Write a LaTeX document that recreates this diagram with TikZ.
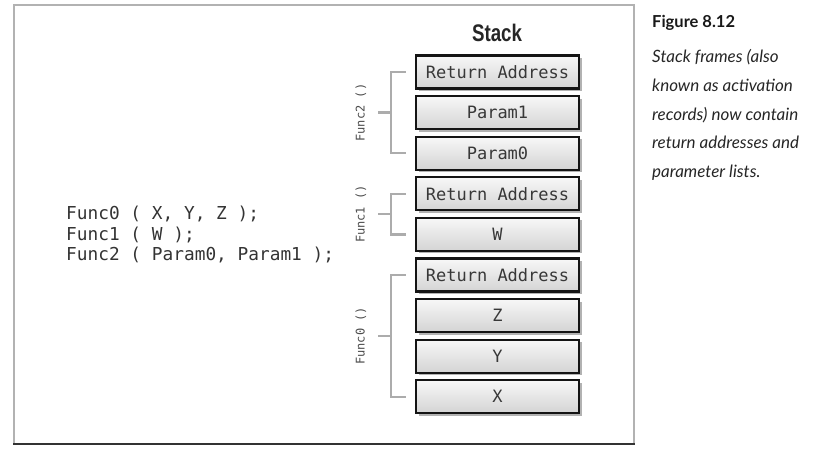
\documentclass[tikz,border=0pt]{standalone}
\usepackage{fontspec}
\setmainfont{Lato}
\newfontfamily\codefont{DejaVu Sans Mono}
\newfontfamily\titlefont[FakeStretch=0.78]{Liberation Sans}
\usetikzlibrary{shadows,calc}
\begin{document}
\begin{tikzpicture}[x=1pt,y=-1pt,
  stackbox/.style={draw=black!92, line width=2.1pt, top color=gray!6, bottom color=gray!34,
    minimum width=163pt, minimum height=33pt, inner sep=0pt,
    font=\codefont\fontsize{17}{17}\selectfont, text=black!78,
    drop shadow={shadow xshift=2.5pt, shadow yshift=-2.5pt, fill=black!60, opacity=0.5}},
  brk/.style={draw=gray!65, line width=2.6pt},
  brklabel/.style={rotate=90, font=\codefont\fontsize{12}{12}\selectfont, text=black!70},
  codeline/.style={anchor=base west, inner sep=0pt, font=\codefont\fontsize{17.8}{17.8}\selectfont, text=black!80},
  capline/.style={anchor=base west, inner sep=0pt, font=\itshape\fontsize{17}{17}\selectfont, text=black!85},
]
\useasboundingbox (0,0) rectangle (813,449);
% frame
\draw[gray!60, line width=1.5pt] (14,444) -- (14,5) -- (634,5) -- (634,444);
\draw[black!80, line width=1.5pt] (13.25,444) -- (634.75,444);

% title
\node[font=\titlefont\bfseries\fontsize{24}{24}\selectfont, text=black!85] (title) at (497,33) {Stack};

% stack boxes
\node[stackbox] (ra2) at (497.5,72) {Return Address};
\node[stackbox] (p1)  at (497.5,112.6) {Param1};
\node[stackbox] (p0)  at (497.5,153.2) {Param0};
\node[stackbox] (ra1) at (497.5,193.8) {Return Address};
\node[stackbox] (w)   at (497.5,234.4) {W};
\node[stackbox] (ra0) at (497.5,275) {Return Address};
\node[stackbox] (z)   at (497.5,315.6) {Z};
\node[stackbox] (y)   at (497.5,356.2) {Y};
\node[stackbox] (x)   at (497.5,396.8) {X};

% brackets
\coordinate (f2m) at ($(ra2.west)!0.5!(p0.west)$);
\coordinate (f1m) at ($(ra1.west)!0.5!(w.west)$);
\coordinate (f0m) at ($(ra0.west)!0.5!(x.west)$);
\draw[brk] ($(ra2.west)+(-9,0)$) -- ($(ra2.west)+(-24,0)$) -- ($(p0.west)+(-24,0)$) -- ($(p0.west)+(-9,0)$);
\draw[brk] ($(f2m)+(-24,0)$) -- ($(f2m)+(-37,0)$);
\draw[brk] ($(ra1.west)+(-9,0)$) -- ($(ra1.west)+(-24,0)$) -- ($(w.west)+(-24,0)$) -- ($(w.west)+(-9,0)$);
\draw[brk] ($(f1m)+(-24,0)$) -- ($(f1m)+(-37,0)$);
\draw[brk] ($(ra0.west)+(-9,0)$) -- ($(ra0.west)+(-24,0)$) -- ($(x.west)+(-24,0)$) -- ($(x.west)+(-9,0)$);
\draw[brk] ($(f0m)+(-24,0)$) -- ($(f0m)+(-37,0)$);
\node[brklabel] (l2) at ($(f2m)+(-54,0)$) {Func2 ()};
\node[brklabel] (l1) at ($(f1m)+(-54,0)$) {Func1 ()};
\node[brklabel] (l0) at ($(f0m)+(-54,0)$) {Func0 ()};

% code
\node[codeline] (c0) at (66,219.5) {Func0 ( X, Y, Z );};
\node[codeline] (c1) at (66,240) {Func1 ( W );};
\node[codeline] (c2) at (66,260.5) {Func2 ( Param0, Param1 );};

% caption
\node[anchor=base west, inner sep=0pt, font=\bfseries\fontsize{16.5}{16.5}\selectfont, text=black!90] (fig) at (652,28) {Figure 8.12};
\node[capline] (cap1) at (652,63) {Stack frames (also};
\node[capline] (cap2) at (652,92) {known as activation};
\node[capline] (cap3) at (652,120.5) {records) now contain};
\node[capline] (cap4) at (652,149) {return addresses and};
\node[capline] (cap5) at (652,178) {parameter lists.};
\end{tikzpicture}
\end{document}
